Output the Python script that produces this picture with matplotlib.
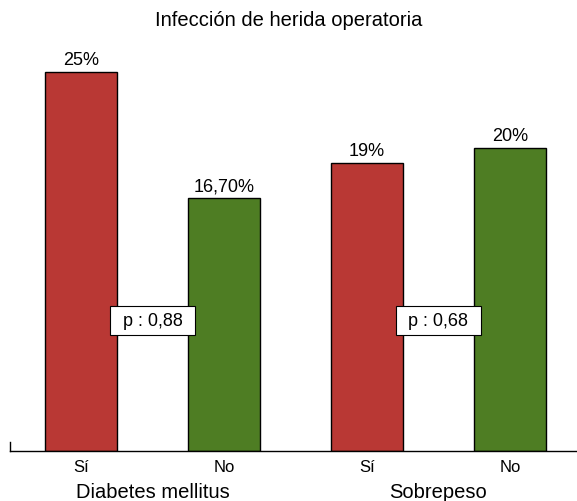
import matplotlib
matplotlib.use('Agg')
import matplotlib.pyplot as plt

RED = '#b93834'
GREEN = '#4e7d23'

groups = ['Diabetes mellitus', 'Sobrepeso']
answers = ['Sí', 'No', 'Sí', 'No']
values = [25.0, 16.7, 19.0, 20.0]
value_labels = ['25%', '16,70%', '19%', '20%']
p_labels = ['p : 0,88', 'p : 0,68']
p_height = 8.6

plt.rcParams['font.family'] = ['Liberation Sans', 'DejaVu Sans']

fig = plt.figure(figsize=(5.77, 5.02), dpi=100)
ax = fig.add_axes([10 / 577, 50 / 502, 567 / 577, 424.5 / 502])

xs = list(range(len(values)))
colors = [RED, GREEN, RED, GREEN]
ax.bar(xs, values, width=0.5, color=colors, edgecolor='black', linewidth=1)

for x, v, lab in zip(xs, values, value_labels):
    ax.text(x, v + 0.25, lab, ha='center', va='bottom', fontsize=13)

for i, lab in enumerate(p_labels):
    ax.text(2 * i + 0.5, p_height, lab, ha='center', va='center', fontsize=13,
            bbox=dict(boxstyle='square,pad=0.7', mutation_aspect=0.45,
                      facecolor='white', edgecolor='black', linewidth=0.8),
            zorder=5)

for i, g in enumerate(groups):
    ax.text(2 * i + 0.5, -0.096, g, transform=ax.get_xaxis_transform(),
            ha='center', va='center', fontsize=14.5)

ax.set_xlim(-0.497, 3.47)
ax.set_ylim(0, 28)
ax.set_xticks(xs)
ax.set_xticklabels(answers, fontsize=12)
ax.tick_params(axis='x', length=0, pad=6)
ax.set_yticks([])
ax.spines['top'].set_visible(False)
ax.spines['right'].set_visible(False)
ax.spines['left'].set_bounds(0, 0.6)
ax.spines['left'].set_linewidth(1)
ax.spines['bottom'].set_linewidth(1)

fig.text(0.5, 1 - 21 / 502, 'Infección de herida operatoria', ha='center', va='center',
         fontsize=14.5)

fig.savefig('out.png', dpi=100)
